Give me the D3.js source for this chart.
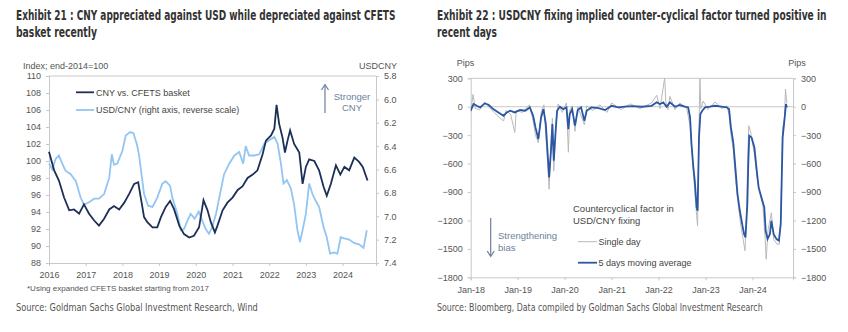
<!DOCTYPE html>
<html>
<head>
<meta charset="utf-8">
<script src="https://cdn.jsdelivr.net/npm/d3@7"></script>
<style>
  body { margin:0; background:#fff; }
  svg text { font-family:"Liberation Sans", Arial, sans-serif; }
  .ttl { font-family:"Liberation Sans Narrow","DejaVu Sans Condensed","Liberation Sans",sans-serif !important; font-weight:bold; fill:#333; }
  .src { font-family:"Liberation Sans Narrow","DejaVu Sans Condensed","Liberation Sans",sans-serif !important; fill:#555; }
  .tick text { fill:#555; font-size:9px; }
  .frame { stroke:#c8c8c8; fill:none; }
</style>
</head>
<body>
<svg id="chart" width="848" height="332"></svg>
<script>
/*********************************************************
 * DATA
 *********************************************************/
// Exhibit 21 - CNY vs CFETS basket (index, left axis)
const cfetsDates = [2016.00,2016.14,2016.27,2016.41,2016.55,2016.68,2016.82,2016.95,2017.09,2017.23,2017.36,2017.50,2017.64,2017.77,2017.91,
  2018.05,2018.18,2018.32,2018.43,2018.50,2018.59,2018.68,2018.82,2018.95,2019.05,2019.18,2019.30,2019.41,2019.55,2019.68,2019.82,2019.95,
  2020.09,2020.21,2020.32,2020.41,2020.52,2020.59,2020.73,2020.86,2021.00,2021.14,2021.27,2021.41,2021.55,2021.68,2021.82,2021.91,
  2022.05,2022.14,2022.20,2022.27,2022.36,2022.43,2022.50,2022.57,2022.68,2022.82,2022.91,2023.00,2023.09,2023.23,2023.36,2023.48,
  2023.57,2023.68,2023.82,2023.94,2024.05,2024.18,2024.32,2024.45,2024.55,2024.68];
const cfetsValues = [101.1,98.9,97.7,95.7,94.2,94.3,93.8,94.9,93.8,93.0,92.4,93.2,94.3,94.7,94.3,
  95.1,96.1,97.3,97.5,95.7,93.4,92.8,92.2,92.2,93.4,94.6,95.3,94.3,92.4,91.4,91.0,91.2,
  92.2,95.4,94.2,92.8,91.6,92.4,94.2,95.1,95.7,96.6,97.0,98.0,98.4,98.9,100.8,102.4,
  103.0,103.8,106.6,104.4,102.8,101.0,102.4,103.6,102.0,101.0,97.3,99.3,100.2,100.0,98.9,97.0,
  95.9,97.3,99.5,98.4,99.3,98.9,100.4,99.9,99.3,97.7];

// Exhibit 21 - USD/CNY (right axis, reverse scale)
const usdcnyDates = [2016.00,2016.09,2016.18,2016.27,2016.36,2016.45,2016.59,2016.73,2016.86,2016.95,2017.09,2017.23,2017.36,2017.50,2017.64,
  2017.71,2017.77,2017.86,2018.00,2018.09,2018.21,2018.30,2018.39,2018.45,2018.52,2018.59,2018.70,2018.82,2018.95,2019.09,2019.18,2019.30,
  2019.36,2019.50,2019.59,2019.68,2019.77,2019.86,2019.97,2020.08,2020.18,2020.27,2020.36,2020.45,2020.55,2020.64,2020.77,2020.91,
  2021.05,2021.18,2021.29,2021.36,2021.45,2021.59,2021.73,2021.86,2022.00,2022.14,2022.23,2022.32,2022.39,2022.48,2022.59,2022.68,
  2022.77,2022.84,2022.91,2023.00,2023.09,2023.18,2023.27,2023.36,2023.48,2023.57,2023.66,2023.77,2023.86,2023.95,2024.05,2024.18,
  2024.32,2024.45,2024.57,2024.66];
const usdcnyValues = [6.55,6.60,6.51,6.48,6.55,6.61,6.64,6.70,6.84,6.90,6.88,6.85,6.85,6.81,6.67,
  6.47,6.56,6.55,6.44,6.31,6.28,6.29,6.38,6.47,6.64,6.81,6.91,6.92,6.84,6.72,6.70,6.74,
  6.84,6.98,7.12,7.11,7.04,6.98,7.02,6.96,7.04,7.11,7.15,7.09,6.98,6.84,6.64,6.55,
  6.48,6.45,6.55,6.40,6.48,6.48,6.47,6.38,6.35,6.32,6.38,6.55,6.72,6.69,6.76,6.90,
  7.12,7.22,7.12,6.98,6.72,6.81,6.87,6.92,7.09,7.18,7.32,7.31,7.32,7.18,7.19,7.20,
  7.23,7.24,7.27,7.12];

// Exhibit 22 - counter-cyclical factor, 5 days moving average (pips)
const maDates = [2018.00,2018.06,2018.13,2018.20,2018.30,2018.38,2018.48,2018.59,2018.70,2018.77,2018.84,2018.94,2019.05,2019.16,2019.26,
  2019.33,2019.38,2019.44,2019.50,2019.55,2019.60,2019.64,2019.67,2019.71,2019.74,2019.77,2019.81,2019.84,2019.90,2019.97,2020.04,
  2020.08,2020.11,2020.16,2020.22,2020.28,2020.35,2020.42,2020.47,2020.57,2020.72,2020.86,2021.00,2021.14,2021.28,2021.43,2021.64,
  2021.85,2021.96,2022.03,2022.10,2022.17,2022.24,2022.35,2022.45,2022.56,2022.63,2022.67,2022.70,2022.74,2022.77,2022.81,2022.83,
  2022.86,2022.89,2022.93,2022.99,2023.09,2023.20,2023.34,2023.45,2023.50,2023.54,2023.59,2023.64,2023.68,2023.73,2023.78,2023.82,
  2023.85,2023.89,2023.91,2023.93,2023.98,2024.04,2024.09,2024.13,2024.19,2024.25,2024.28,2024.32,2024.37,2024.40,2024.45,2024.51,
  2024.56,2024.60,2024.64,2024.67,2024.71,2024.73];
const maValues = [-42,28,10,-7,35,21,-25,-60,-95,-60,-42,-60,-35,-42,-7,
  -95,-218,-341,-113,-25,-183,-500,-746,-464,-183,-570,-253,-42,0,-25,-7,
  -236,-77,-25,-200,-35,-7,-148,-42,-7,-14,-35,10,-7,0,7,0,
  10,46,28,46,0,46,0,18,0,-7,-113,-394,-640,-781,-1062,-1098,
  -324,-77,-42,-7,0,10,0,-7,-25,-218,-376,-675,-922,-1098,-1238,-1344,
  -1379,-1027,-605,-306,-324,-429,-675,-851,-957,-1062,-1309,-1397,-1344,-1203,-1344,-1397,
  -1414,-1238,-324,-183,28,-7];

// Exhibit 22 - counter-cyclical factor, single day (pips)
const dayDates = [2018.00,2018.05,2018.10,2018.20,2018.30,2018.40,2018.50,2018.60,2018.70,2018.75,2018.85,2018.94,2018.97,2019.10,2019.25,
  2019.33,2019.38,2019.44,2019.50,2019.56,2019.60,2019.64,2019.67,2019.71,2019.74,2019.77,2019.81,2019.86,2019.95,2020.04,2020.08,
  2020.11,2020.16,2020.22,2020.28,2020.42,2020.47,2020.60,2020.75,2020.90,2021.00,2021.20,2021.40,2021.60,2021.85,2021.96,2022.03,
  2022.13,2022.15,2022.20,2022.24,2022.35,2022.45,2022.60,2022.67,2022.72,2022.77,2022.81,2022.83,2022.86,2022.88,2022.90,2022.95,
  2023.05,2023.20,2023.35,2023.45,2023.50,2023.54,2023.59,2023.64,2023.70,2023.75,2023.80,2023.84,2023.87,2023.90,2023.92,2023.96,
  2024.04,2024.10,2024.15,2024.22,2024.27,2024.29,2024.33,2024.40,2024.45,2024.52,2024.57,2024.60,2024.64,2024.68,2024.70,2024.73];
const dayValues = [-60,130,-20,-30,50,-10,-60,-110,-150,-40,-80,-270,-40,-60,20,
  -150,-300,-380,-60,20,-320,-600,-870,-380,-120,-680,-200,30,-60,40,-480,
  -40,10,-260,0,-190,10,-40,20,-60,40,-30,30,-20,40,120,-20,
  310,60,-30,110,-30,40,-20,-200,-550,-900,-1150,-1260,-200,310,-20,60,
  -30,50,-20,10,-80,-300,-450,-780,-1050,-1250,-1400,-1520,-1150,-500,-200,-270,
  -500,-760,-900,-1050,-1400,-1610,-1300,-1120,-1400,-1450,-1450,-1150,-220,-120,186,40];

const leftTicks  = [88,90,92,94,96,98,100,102,104,106,108,110];
const rightTicks = [5.8,6.0,6.2,6.4,6.6,6.8,7.0,7.2,7.4];
const pipTicks   = [300,0,-300,-600,-900,-1200,-1500,-1800];

/*********************************************************
 * helpers
 *********************************************************/
const toDate = t => {
  const y = Math.floor(t), s = new Date(y,0,1), e = new Date(y+1,0,1);
  return new Date(+s + (t-y)*(e-s));
};
const zip = (ds, vs) => ds.map((d,i) => ({date:toDate(d), v:vs[i]}));

const svg = d3.select("#chart");

// squeeze a text horizontally so that it spans exactly w pixels
function fitText(sel, x, w) {
  const n = sel.node().getComputedTextLength();
  sel.attr("x", 0).attr("transform", `translate(${x},0) scale(${w/n},1)`);
}

function title(x, lines, widths) {
  lines.forEach((s,i) => {
    const t = svg.append("text").attr("class","ttl").attr("y",20.5 + i*17).attr("font-size",13.5).text(s);
    fitText(t, x, widths[i]);
  });
}

/*********************************************************
 * EXHIBIT 21
 *********************************************************/
(function () {
  const x  = d3.scaleTime().domain([toDate(2016), toDate(2024.91)]).range([49,376]);
  const y  = d3.scaleLinear().domain([88,110]).range([263,76]);
  const y2 = d3.scaleLinear().domain([5.8,7.4]).range([76,263]);

  title(16, ["Exhibit 21 : CNY appreciated against USD while depreciated against CFETS","basket recently"], [380,81]);

  const g = svg.append("g");
  g.append("line").attr("class","frame").attr("x1",49).attr("x2",376).attr("y1",76).attr("y2",76);

  g.append("g").attr("transform","translate(49,0)")
    .call(d3.axisLeft(y).tickValues(leftTicks).tickSize(3).tickPadding(5));
  g.append("g").attr("transform","translate(376,0)")
    .call(d3.axisRight(y2).tickValues(rightTicks).tickSize(3).tickPadding(5).tickFormat(d3.format(".1f")));
  g.append("g").attr("transform","translate(0,263)")
    .call(d3.axisBottom(x).ticks(d3.timeYear.every(1)).tickSize(3).tickPadding(6).tickFormat(d3.timeFormat("%Y")));
  g.selectAll(".domain, .tick line").attr("stroke","#c8c8c8");

  g.append("text").attr("x",23).attr("y",68.5).attr("font-size",9).attr("fill","#555").text("Index; end-2014=100");
  g.append("text").attr("x",397).attr("y",68.5).attr("font-size",9).attr("fill","#555")
    .attr("text-anchor","end").text("USDCNY");

  g.append("path").datum(zip(usdcnyDates, usdcnyValues))
    .attr("d", d3.line().x(d => x(d.date)).y(d => y2(d.v)))
    .attr("fill","none").attr("stroke","#93c5f3").attr("stroke-width",1.8);
  g.append("path").datum(zip(cfetsDates, cfetsValues))
    .attr("d", d3.line().x(d => x(d.date)).y(d => y(d.v)))
    .attr("fill","none").attr("stroke","#1b2f57").attr("stroke-width",1.8);

  // legend
  [["#1b2f57","CNY vs. CFETS basket",92.3],["#93c5f3","USD/CNY (right axis, reverse scale)",110]].forEach(([c,t,yy]) => {
    g.append("line").attr("x1",76).attr("x2",94).attr("y1",yy).attr("y2",yy).attr("stroke",c).attr("stroke-width",1.8);
    g.append("text").attr("x",96).attr("y",yy+3.2).attr("font-size",9).attr("fill","#444").text(t);
  });

  // Stronger CNY arrow
  g.append("line").attr("x1",325).attr("x2",325).attr("y1",113).attr("y2",86)
    .attr("stroke","#6d7f9c").attr("stroke-width",1.2);
  g.append("path").attr("d","M321.5,90 L325,84.5 L328.5,90").attr("fill","none").attr("stroke","#6d7f9c").attr("stroke-width",1.2);
  g.append("text").attr("x",352).attr("y",99.5).attr("font-size",9.5).attr("fill","#6d7f9c")
    .attr("text-anchor","middle").text("Stronger");
  g.append("text").attr("x",352).attr("y",110.5).attr("font-size",9.5).attr("fill","#6d7f9c")
    .attr("text-anchor","middle").text("CNY");

  svg.append("text").attr("x",27).attr("y",291).attr("font-size",8).attr("fill","#555")
    .text("*Using expanded CFETS  basket starting from 2017");
  fitText(svg.append("text").attr("class","src").attr("y",311).attr("font-size",11)
    .text("Source: Goldman Sachs Global Investment Research, Wind"), 16, 242);
})();

/*********************************************************
 * EXHIBIT 22
 *********************************************************/
(function () {
  const L = 470.7, R = 793, T = 78.3, B = 277.3;
  const x = d3.scaleTime().domain([toDate(2018), toDate(2024.86)]).range([L,R]);
  const y = d3.scaleLinear().domain([-1800,300]).range([B,T]);

  title(437, ["Exhibit 22 : USDCNY fixing implied counter-cyclical factor turned positive in","recent days"], [390,60]);

  const g = svg.append("g");
  svg.append("clipPath").attr("id","clip22").append("rect")
    .attr("x",L).attr("y",T).attr("width",R-L).attr("height",B-T);

  g.append("line").attr("class","frame").attr("x1",L).attr("x2",R).attr("y1",T).attr("y2",T);
  g.append("line").attr("x1",L).attr("x2",R).attr("y1",y(0)).attr("y2",y(0)).attr("stroke","#c8c8c8");

  g.append("g").attr("transform",`translate(${L},0)`)
    .call(d3.axisLeft(y).tickValues(pipTicks).tickSize(3).tickPadding(5).tickFormat(d3.format("d")));
  g.append("g").attr("transform",`translate(${R},0)`)
    .call(d3.axisRight(y).tickValues(pipTicks).tickSize(3).tickPadding(5).tickFormat(d3.format("d")));
  g.append("g").attr("transform",`translate(0,${B})`)
    .call(d3.axisBottom(x).ticks(d3.timeYear.every(1)).tickSize(3).tickPadding(6).tickFormat(d3.timeFormat("%b-%y")));
  g.selectAll(".domain, .tick line").attr("stroke","#c8c8c8");

  g.append("text").attr("x",465.5).attr("y",66).attr("font-size",9).attr("fill","#555").attr("text-anchor","middle").text("Pips");
  g.append("text").attr("x",797).attr("y",66).attr("font-size",9).attr("fill","#555").attr("text-anchor","middle").text("Pips");

  const ln = d3.line().x(d => x(d.date)).y(d => y(d.v));
  const plot = g.append("g").attr("clip-path","url(#clip22)");
  plot.append("path").datum(zip(dayDates, dayValues)).attr("d", ln)
    .attr("fill","none").attr("stroke","#b9b9b9").attr("stroke-width",1);
  plot.append("path").datum(zip(maDates, maValues)).attr("d", ln)
    .attr("fill","none").attr("stroke","#2a56a4").attr("stroke-width",1.8);

  // legend
  g.append("text").attr("x",573).attr("y",211.7).attr("font-size",9.5).attr("fill","#444").text("Countercyclical factor in");
  g.append("text").attr("x",573).attr("y",223.5).attr("font-size",9.5).attr("fill","#444").text("USD/CNY  fixing");
  g.append("line").attr("x1",578).attr("x2",597).attr("y1",241.7).attr("y2",241.7).attr("stroke","#b9b9b9").attr("stroke-width",1);
  g.append("text").attr("x",598.5).attr("y",245).attr("font-size",9).attr("fill","#444").text("Single day");
  g.append("line").attr("x1",578).attr("x2",597).attr("y1",262.7).attr("y2",262.7).attr("stroke","#2a56a4").attr("stroke-width",1.8);
  g.append("text").attr("x",598.5).attr("y",266).attr("font-size",9).attr("fill","#444").text("5 days moving average");

  // Strengthening bias arrow
  g.append("line").attr("x1",490.7).attr("x2",490.7).attr("y1",218).attr("y2",255)
    .attr("stroke","#6d7f9c").attr("stroke-width",1.2);
  g.append("path").attr("d","M487.2,251 L490.7,256.5 L494.2,251").attr("fill","none").attr("stroke","#6d7f9c").attr("stroke-width",1.2);
  g.append("text").attr("x",498).attr("y",239.3).attr("font-size",9.5).attr("fill","#6d7f9c").text("Strengthening");
  g.append("text").attr("x",498).attr("y",250.7).attr("font-size",9.5).attr("fill","#6d7f9c").text("bias");

  fitText(svg.append("text").attr("class","src").attr("y",311).attr("font-size",11)
    .text("Source: Bloomberg, Data compiled by Goldman Sachs Global Investment Research"), 437, 326);
})();
</script>
</body>
</html>
